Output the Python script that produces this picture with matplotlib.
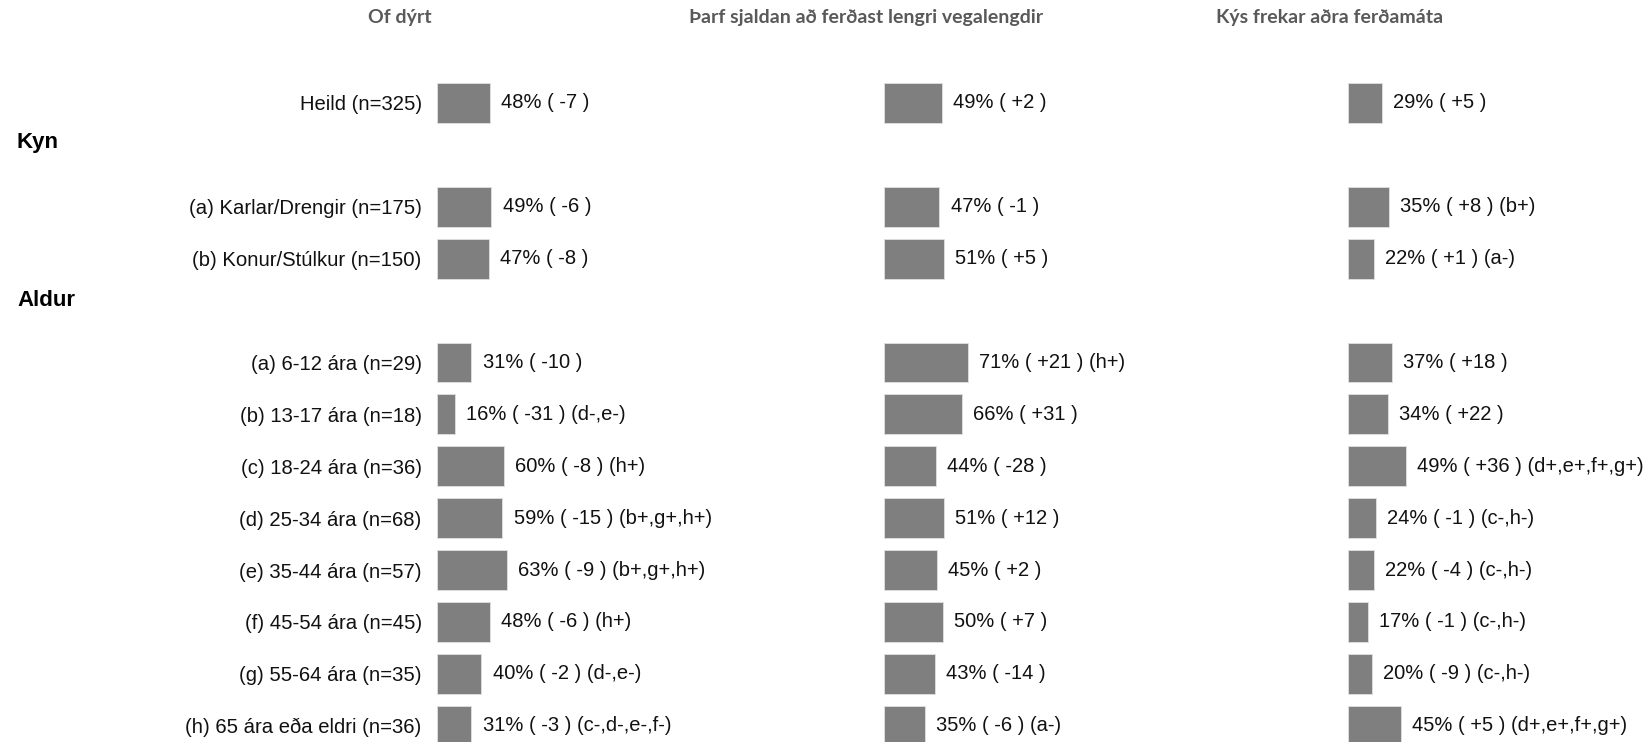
import numpy as np
import matplotlib.pyplot as plt
from matplotlib.transforms import blended_transform_factory

# row labels and their positions (row index)
categories = ['Heild (n=325)',
              '(a) Karlar/Drengir (n=175)', '(b) Konur/Stúlkur (n=150)',
              '(a) 6-12 ára (n=29)', '(b) 13-17 ára (n=18)', '(c) 18-24 ára (n=36)',
              '(d) 25-34 ára (n=68)', '(e) 35-44 ára (n=57)', '(f) 45-54 ára (n=45)',
              '(g) 55-64 ára (n=35)', '(h) 65 ára eða eldri (n=36)']
rows = [0, 2, 3, 5, 6, 7, 8, 9, 10, 11, 12]
groups = ['Kyn', 'Aldur']
group_rows = [0.77, 3.8]

titles = ['Of dýrt', 'Þarf sjaldan að ferðast lengri vegalengdir', 'Kýs frekar aðra ferðamáta']

pct1 = [48, 49, 47, 31, 16, 60, 59, 63, 48, 40, 31]
diff1 = [-7, -6, -8, -10, -31, -8, -15, -9, -6, -2, -3]
sig1 = ['', '', '', '', '(d-,e-)', '(h+)', '(b+,g+,h+)', '(b+,g+,h+)', '(h+)', '(d-,e-)', '(c-,d-,e-,f-)']

pct2 = [49, 47, 51, 71, 66, 44, 51, 45, 50, 43, 35]
diff2 = [2, -1, 5, 21, 31, -28, 12, 2, 7, -14, -6]
sig2 = ['', '', '', '(h+)', '', '', '', '', '', '', '(a-)']

pct3 = [29, 35, 22, 37, 34, 49, 24, 22, 17, 20, 45]
diff3 = [5, 8, 1, 18, 22, 36, -1, -4, -1, -9, 5]
sig3 = ['', '(b+)', '(a-)', '', '', '(d+,e+,f+,g+)', '(c-,h-)', '(c-,h-)', '(c-,h-)', '(c-,h-)', '(d+,e+,f+,g+)']

W, H = 1646, 742
fig = plt.figure(figsize=(W / 100, H / 100), dpi=100)
plt.rcParams['font.family'] = ['Liberation Sans', 'DejaVu Sans']

# axes placement in pixels: left, width, px per percent
panels = [(437, 400, 1.11), (884, 416, 1.18), (1348, 298, 1.18)]
data = [(pct1, diff1, sig1), (pct2, diff2, sig2), (pct3, diff3, sig3)]
title_x = [400, 866, 1330]

row_px = 51.9
top_row_px = 103
ylo = -top_row_px / row_px
yhi = (H - top_row_px) / row_px

axes = []
for k, ((left, width, scale), (p, d, s)) in enumerate(zip(panels, data)):
    ax = fig.add_axes([left / W, 0, width / W, 1])
    ax.barh(rows, p, height=0.77, color='#7f7f7f', edgecolor='#e0e0e0', linewidth=0.6)
    for r, v, dd, ss in zip(rows, p, d, s):
        lab = f'{v}% ( {dd:+d} )'
        if ss:
            lab += ' ' + ss
        ax.annotate(lab, (v, r), xytext=(8, 0), textcoords='offset points',
                    va='center', ha='left', fontsize=14.5, color='#111111',
                    annotation_clip=False)
    ax.set_xlim(0, width / scale)
    ax.set_ylim(yhi, ylo)
    for sp in ax.spines.values():
        sp.set_visible(False)
    ax.set_xticks([])
    if k == 0:
        ax.set_yticks(rows)
        ax.set_yticklabels(categories, fontsize=14.6, color='#111111')
        ax.tick_params(axis='y', length=0, pad=11)
    else:
        ax.set_yticks([])
    ax.patch.set_alpha(0)
    axes.append(ax)
    fig.text(title_x[k] / W, 1 - 18 / H, titles[k], ha='center', va='center',
             fontsize=14, fontweight='bold', color='#595959', family=['Lato', 'DejaVu Sans'])

trans = blended_transform_factory(fig.transFigure, axes[0].transData)
for g, gr in zip(groups, group_rows):
    axes[0].text(17 / W, gr, g, transform=trans, ha='left', va='center',
                 fontsize=16, fontweight='bold', color='black')

fig.savefig('out.png', dpi=100)
